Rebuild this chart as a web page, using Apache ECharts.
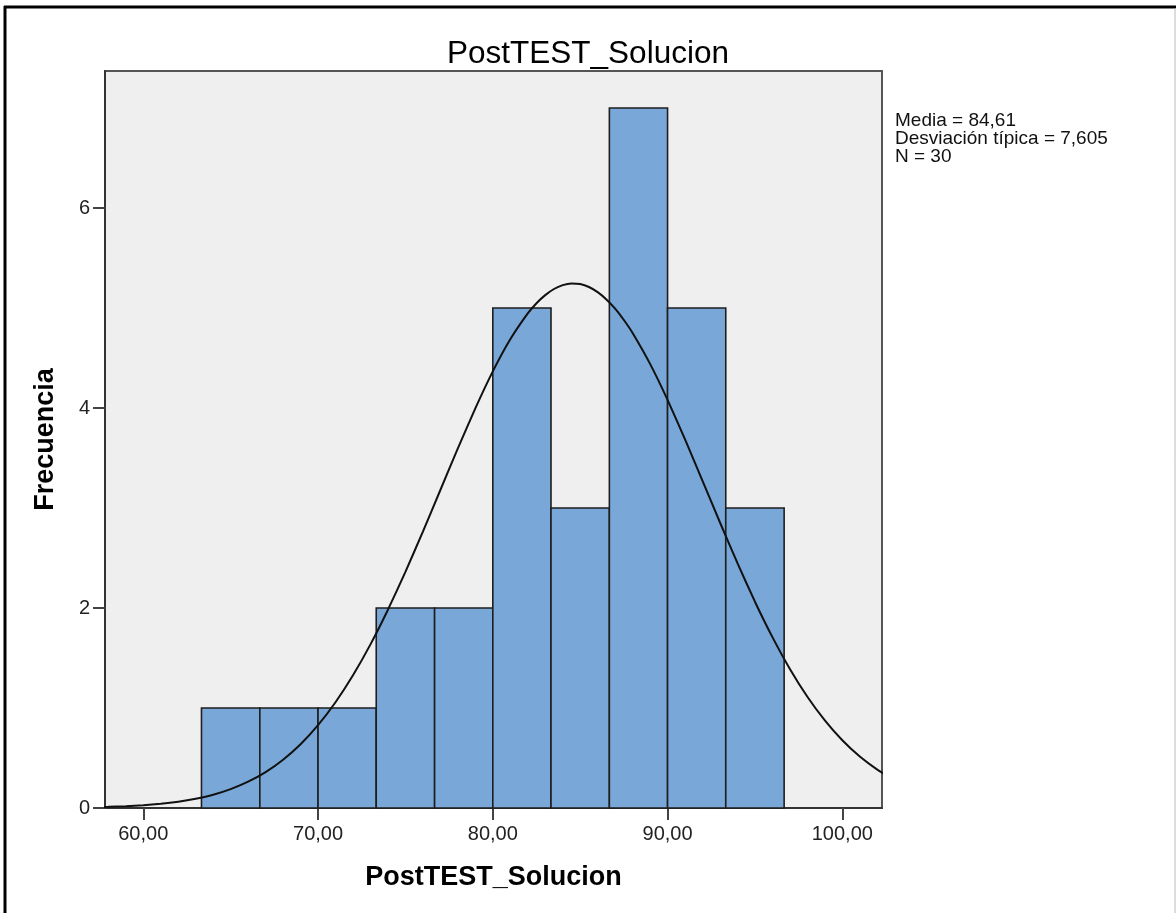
<!DOCTYPE html>
<html>
<head>
<meta charset="utf-8">
<script src="https://cdn.jsdelivr.net/npm/echarts@6/dist/echarts.min.js"></script>
<style>
html,body{margin:0;padding:0;background:#fff;}
#chart{width:1176px;height:913px;}
</style>
</head>
<body>
<div id="chart"></div>
<script>
// ---- data ----
const chartTitle = 'PostTEST_Solucion';
const xAxisName = 'PostTEST_Solucion';
const yAxisName = 'Frecuencia';
const statsLines = ['Media = 84,61', 'Desviación típica = 7,605', 'N = 30'];

const binStart = [63.33, 66.67, 70.00, 73.33, 76.67, 80.00, 83.33, 86.67, 90.00, 93.33];
const binEnd   = [66.67, 70.00, 73.33, 76.67, 80.00, 83.33, 86.67, 90.00, 93.33, 96.67];
const counts   = [1, 1, 1, 2, 2, 5, 3, 7, 5, 3];

// normal curve
const curveX = [57, 58, 59, 60, 61, 62, 63, 64, 65, 66, 67, 68, 69, 70, 71, 72, 73, 74, 75, 76,
                77, 78, 79, 80, 81, 82, 82.5, 83, 83.5, 84, 84.5, 85, 85.5, 86, 86.5, 87, 87.5, 88, 89, 90, 91, 92, 93, 94, 95, 96,
                97, 98, 99, 100, 101, 102, 103];
const curveY = [0.007, 0.012, 0.018, 0.028, 0.042, 0.063, 0.093, 0.133, 0.189, 0.263, 0.359, 0.483, 0.638, 0.829, 1.058, 1.327, 1.636, 1.983, 2.361, 2.764,
                3.180, 3.596, 3.996, 4.366, 4.687, 4.946, 5.048, 5.129, 5.190, 5.229, 5.246, 5.239, 5.210, 5.159, 5.086, 4.993, 4.880, 4.750, 4.441, 4.081, 3.686, 3.272, 2.855, 2.448, 2.063, 1.709,
                1.391, 1.113, 0.876, 0.677, 0.514, 0.384, 0.282];

const xTicks = [60, 70, 80, 90, 100];
const yTicks = [0, 2, 4, 6];
const xRange = [57.81, 102.27];
const yRange = [0, 7.37];

// ---- chart ----
const FONT = 'Liberation Sans, Arial, sans-serif';
const chart = echarts.init(document.getElementById('chart'), null, {renderer: 'canvas'});

const option = {
  animation: false,
  backgroundColor: '#ffffff',
  textStyle: {fontFamily: FONT, color: '#000'},
  title: {
    text: chartTitle,
    left: 'center',
    top: 33,
    textStyle: {fontFamily: FONT, fontSize: 31.5, fontWeight: 'normal', color: '#000'}
  },
  grid: {
    left: 105, top: 71, right: 294, bottom: 105,
    show: true, backgroundColor: '#EFEFEF', borderColor: '#555', borderWidth: 2
  },
  xAxis: {
    type: 'value',
    min: xRange[0], max: xRange[1],
    name: xAxisName,
    nameLocation: 'middle',
    nameGap: 56,
    nameTextStyle: {fontFamily: FONT, fontSize: 27, fontWeight: 'bold', color: '#000'},
    axisLine: {show: true, lineStyle: {color: '#333', width: 2}},
    axisTick: {show: true, customValues: xTicks, length: 12, lineStyle: {color: '#444', width: 2}},
    axisLabel: {
      customValues: xTicks,
      margin: 16,
      fontFamily: FONT, fontSize: 20, color: '#222',
      formatter: v => v.toFixed(2).replace('.', ',')
    },
    splitLine: {show: false}
  },
  yAxis: {
    type: 'value',
    min: yRange[0], max: yRange[1],
    name: yAxisName,
    nameLocation: 'middle',
    nameGap: 46,
    nameTextStyle: {fontFamily: FONT, fontSize: 27, fontWeight: 'bold', color: '#000'},
    axisLine: {show: true, lineStyle: {color: '#333', width: 2}},
    axisTick: {show: true, customValues: yTicks, length: 12, lineStyle: {color: '#444', width: 2}},
    axisLabel: {
      customValues: yTicks,
      margin: 15,
      fontFamily: FONT, fontSize: 20, color: '#222',
      formatter: v => String(v)
    },
    splitLine: {show: false}
  },
  series: [
    {
      type: 'custom',
      z: 2,
      renderItem: function (params, api) {
        const x0 = api.value(0), x1 = api.value(1), c = api.value(2);
        const pTop = api.coord([x0, c]);
        const pBot = api.coord([x1, 0]);
        return {
          type: 'rect',
          shape: {x: pTop[0], y: pTop[1], width: pBot[0] - pTop[0], height: pBot[1] - pTop[1]},
          style: {fill: '#79A8D8', stroke: '#1e1e1e', lineWidth: 1.6}
        };
      },
      encode: {x: [0, 1], y: 2},
      data: binStart.map((s, i) => [s, binEnd[i], counts[i]])
    },
    {
      type: 'line',
      z: 3,
      smooth: 0.15,
      showSymbol: false,
      clip: true,
      lineStyle: {color: '#111', width: 2},
      data: curveX.map((x, i) => [x, curveY[i]])
    }
  ],
  graphic: [
    {
      type: 'text',
      left: 895, top: 111,
      style: {text: statsLines.join('\n'), font: '19px ' + FONT, fill: '#111', lineHeight: 18}
    },
    {type: 'line', shape: {x1: 4, y1: 7, x2: 1176, y2: 7}, style: {stroke: '#000', lineWidth: 3}},
    {type: 'line', shape: {x1: 5, y1: 6, x2: 5, y2: 913}, style: {stroke: '#000', lineWidth: 3}},
    {type: 'line', shape: {x1: 1175, y1: 8, x2: 1175, y2: 913}, style: {stroke: '#bbb', lineWidth: 1}}
  ]
};
chart.setOption(option);
</script>
</body>
</html>
